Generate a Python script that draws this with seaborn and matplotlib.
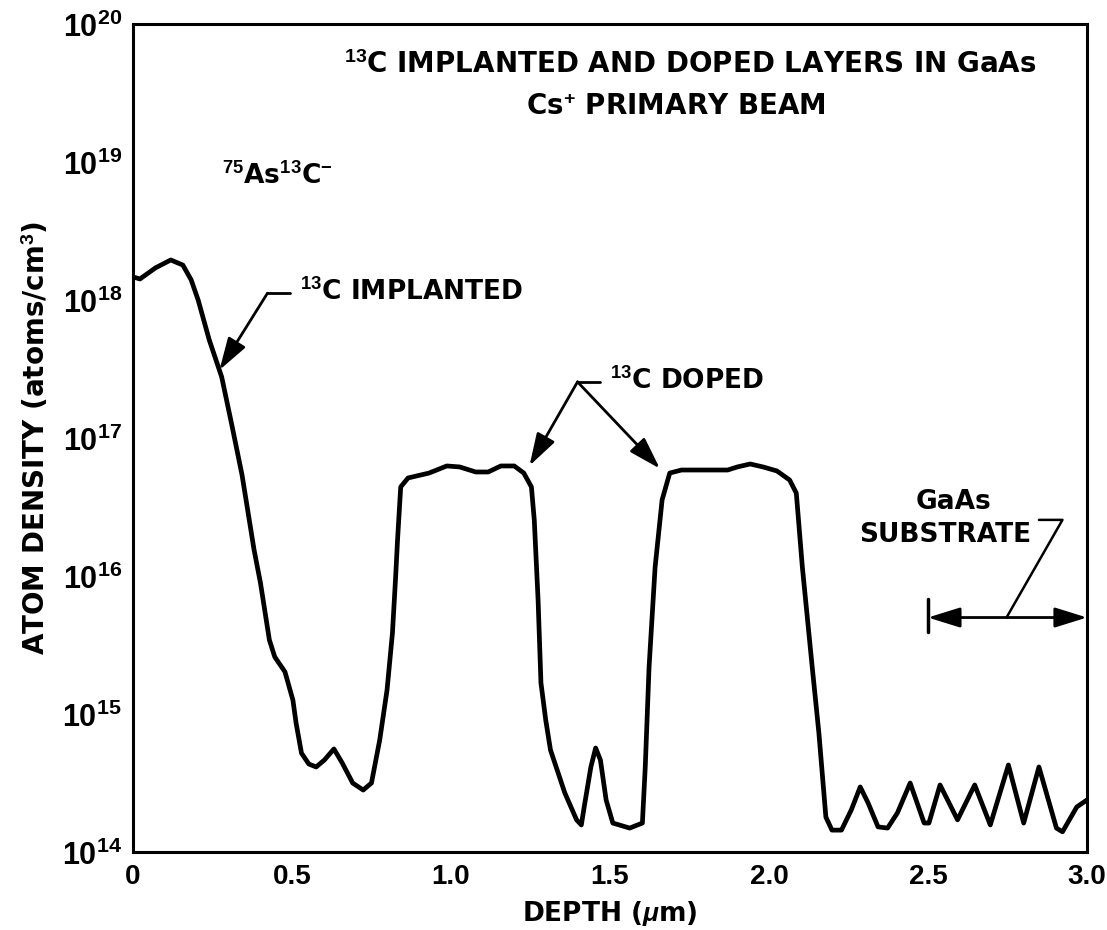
import matplotlib
matplotlib.use("Agg")
import matplotlib.pyplot as plt
import seaborn as sns
import pandas as pd
from matplotlib.ticker import NullLocator

# ---- data ----
depth_um = [0.000, 0.022, 0.071, 0.119, 0.157, 0.183, 0.205, 0.240, 0.279, 0.311,
            0.343, 0.381, 0.401, 0.429, 0.446, 0.478, 0.503, 0.513, 0.530, 0.553,
            0.576, 0.602, 0.632, 0.658, 0.691, 0.724, 0.750, 0.776, 0.799, 0.816,
            0.826, 0.832, 0.842, 0.865, 0.931, 0.987, 1.027, 1.078, 1.117, 1.157,
            1.199, 1.229, 1.253, 1.262, 1.274, 1.283, 1.298, 1.313, 1.358, 1.395,
            1.410, 1.419, 1.440, 1.455, 1.470, 1.488, 1.509, 1.562, 1.602, 1.611,
            1.623, 1.642, 1.664, 1.688, 1.725, 1.870, 1.901, 1.941, 1.981, 2.025,
            2.065, 2.086, 2.105, 2.136, 2.157, 2.179, 2.198, 2.228, 2.259, 2.287,
            2.312, 2.343, 2.373, 2.404, 2.444, 2.488, 2.503, 2.538, 2.593, 2.647,
            2.696, 2.753, 2.801, 2.849, 2.904, 2.923, 2.968, 3.000]

atom_density = [1.47e18, 1.42e18, 1.71e18, 1.95e18, 1.79e18, 1.40e18, 1.0e18, 5.13e17, 2.77e17, 1.24e17,
                5.40e16, 1.54e16, 8.9e15, 3.44e15, 2.59e15, 2.02e15, 1.26e15, 8.6e14, 5.2e14, 4.34e14,
                4.13e14, 4.64e14, 5.58e14, 4.42e14, 3.16e14, 2.81e14, 3.16e14, 6.48e14, 1.49e15, 3.86e15,
                9.8e15, 1.82e16, 4.42e16, 5.13e16, 5.57e16, 6.27e16, 6.17e16, 5.67e16, 5.67e16, 6.27e16,
                6.27e16, 5.57e16, 4.42e16, 2.55e16, 6.7e15, 1.68e15, 9.05e14, 5.48e14, 2.68e14, 1.71e14,
                1.57e14, 2.12e14, 4.13e14, 5.67e14, 4.64e14, 2.38e14, 1.62e14, 1.49e14, 1.62e14, 4.13e14,
                2.19e15, 1.16e16, 3.56e16, 5.57e16, 5.86e16, 5.86e16, 6.17e16, 6.48e16, 6.17e16, 5.77e16,
                4.96e16, 3.99e16, 1.16e16, 2.19e15, 7.28e14, 1.79e14, 1.44e14, 1.44e14, 2.02e14, 2.96e14,
                2.26e14, 1.52e14, 1.49e14, 1.92e14, 3.16e14, 1.62e14, 1.62e14, 3.06e14, 1.71e14, 3.06e14,
                1.57e14, 4.27e14, 1.62e14, 4.13e14, 1.49e14, 1.40e14, 2.12e14, 2.38e14]

x_ticks = [0, 0.5, 1.0, 1.5, 2.0, 2.5, 3.0]
x_tick_labels = ["0", "0.5", "1.0", "1.5", "2.0", "2.5", "3.0"]
y_exponents = [14, 15, 16, 17, 18, 19, 20]

# ---- style ----
sns.set_style("white")
plt.rcParams["font.family"] = ["DejaVu Sans"]
plt.rcParams["font.weight"] = "bold"
plt.rcParams["text.color"] = "black"
plt.rcParams["axes.labelcolor"] = "black"
plt.rcParams["xtick.color"] = "black"
plt.rcParams["ytick.color"] = "black"
plt.rcParams["mathtext.fontset"] = "custom"
plt.rcParams["mathtext.rm"] = "Liberation Sans:bold"
plt.rcParams["mathtext.bf"] = "Liberation Sans:bold"
plt.rcParams["mathtext.it"] = "Liberation Sans:bold:italic"
plt.rcParams["mathtext.default"] = "rm"

fig = plt.figure(figsize=(11.07, 9.30), dpi=100)
ax = fig.add_axes([0.1201, 0.0839, 0.8618, 0.8903])

df = pd.DataFrame({"depth": depth_um, "density": atom_density})
sns.lineplot(data=df, x="depth", y="density", ax=ax, color="black",
             linewidth=3.4, sort=False, estimator=None)
for ln in ax.get_lines():
    ln.set_solid_joinstyle("round")
    ln.set_solid_capstyle("round")

ax.set_yscale("log")
ax.set_xlim(0, 3.0)
ax.set_ylim(1e14, 1e20)
ax.set_xticks(x_ticks)
ax.set_xticklabels(x_tick_labels, fontfamily="Liberation Sans", fontweight="bold", fontsize=20)
ax.set_yticks([10.0 ** e for e in y_exponents])
ax.set_yticklabels([f"$10^{{{e}}}$" for e in y_exponents], fontsize=22)
ax.yaxis.set_minor_locator(NullLocator())
ax.xaxis.set_minor_locator(NullLocator())

ax.tick_params(axis="both", which="major", direction="in", length=19, width=1.8,
               color="black", labelcolor="black")
ax.tick_params(axis="x", pad=9)
ax.tick_params(axis="y", pad=8)

for s in ax.spines.values():
    s.set_visible(True)
    s.set_linewidth(2.2)
    s.set_color("black")

ax.set_xlabel(r"DEPTH ($\mathit{\mu}$m)", fontsize=19, fontweight="bold", labelpad=6)
ax.set_ylabel(r"ATOM DENSITY (atoms/cm$^{3}$)", fontsize=20, fontweight="bold", labelpad=8)

# ---- text annotations ----
ax.text(0.584, 0.950, r"$^{13}$C IMPLANTED AND DOPED LAYERS IN GaAs", transform=ax.transAxes,
        ha="center", va="center", fontsize=20, fontweight="bold")
ax.text(0.569, 0.900, r"Cs$^{+}$ PRIMARY BEAM", transform=ax.transAxes,
        ha="center", va="center", fontsize=20, fontweight="bold")
ax.text(0.093, 0.815, r"$^{75}$As$^{13}$C$^{-}$", transform=ax.transAxes,
        ha="left", va="center", fontsize=19, fontweight="bold")

arrow_kw = dict(arrowstyle="-|>,head_length=0.9,head_width=0.28", color="black", lw=2,
                mutation_scale=22, shrinkA=0, shrinkB=0)

# 13C IMPLANTED
ax.text(0.175, 0.675, r"$^{13}$C IMPLANTED", transform=ax.transAxes,
        ha="left", va="center", fontsize=19, fontweight="bold")
ax.plot([0.494, 0.423], [1.12e18, 1.12e18], color="black", lw=2)
ax.annotate("", xy=(0.272, 3.11e17), xytext=(0.423, 1.12e18), arrowprops=arrow_kw)

# 13C DOPED
ax.text(0.500, 0.568, r"$^{13}$C DOPED", transform=ax.transAxes,
        ha="left", va="center", fontsize=19, fontweight="bold")
ax.plot([1.398, 1.470], [2.55e17, 2.55e17], color="black", lw=2)
for tip in [(1.247, 6.3e16), (1.657, 6.0e16)]:
    ax.annotate("", xy=tip, xytext=(1.398, 2.55e17), arrowprops=arrow_kw)

# GaAs SUBSTRATE
ax.text(0.860, 0.423, "GaAs", transform=ax.transAxes,
        ha="center", va="center", fontsize=19, fontweight="bold")
ax.text(0.851, 0.383, "SUBSTRATE", transform=ax.transAxes,
        ha="center", va="center", fontsize=19, fontweight="bold")
ax.annotate("", xy=(2.5, 5.0e15), xytext=(2.75, 5.0e15), arrowprops=arrow_kw)
ax.annotate("", xy=(3.0, 5.0e15), xytext=(2.75, 5.0e15), arrowprops=arrow_kw,
            annotation_clip=False)
ax.plot([2.5, 2.5], [6.8e15, 3.9e15], color="black", lw=2.5)
ax.plot([2.849, 2.923, 2.747], [2.55e16, 2.55e16, 5.0e15], color="black", lw=1.8)

fig.savefig("out.png", dpi=100)
